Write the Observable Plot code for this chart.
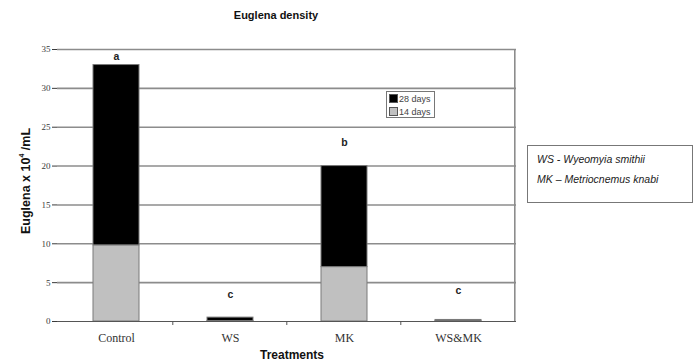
<!DOCTYPE html>
<html><head><meta charset="utf-8">
<script src="https://cdn.jsdelivr.net/npm/d3@7"></script>
<script src="https://cdn.jsdelivr.net/npm/@observablehq/plot@0.6"></script>
<style>
body{margin:0;background:#fff;}
#wrap{position:relative;width:698px;height:364px;font-family:"Liberation Sans",Arial,sans-serif;}
.abs{position:absolute;white-space:nowrap;}
</style></head><body>
<div id="wrap"></div>
<script>
const treatments = ["Control", "WS", "MK", "WS&MK"];
const days14 = [9.8, 0.05, 7.0, 0.05];
const days28 = [23.2, 0.45, 13.0, 0.15];
const letters = ["a", "c", "b", "c"];
const letterY = [34.1, 3.4, 23.0, 4.0];
const yTicks = [0, 5, 10, 15, 20, 25, 30, 35];
const seriesNames = ["14 days", "28 days"];
const seriesColors = ["#c0c0c0", "#000000"];

const rows = [];
treatments.forEach((t, i) => {
  rows.push({treatment: t, series: "14 days", value: days14[i]});
  rows.push({treatment: t, series: "28 days", value: days28[i]});
});
const labelRows = treatments.map((t, i) => ({treatment: t, letter: letters[i], y: letterY[i]}));

const plot = Plot.plot({
  width: 698, height: 364,
  marginTop: 49, marginBottom: 43, marginLeft: 57, marginRight: 182,
  style: {fontFamily: "'Liberation Serif', 'Times New Roman', serif", background: "#fff"},
  x: {domain: treatments, paddingInner: 0.6, paddingOuter: 0.3, label: null},
  y: {domain: [0, 35], label: null},
  color: {domain: seriesNames, range: seriesColors},
  marks: [
    Plot.ruleY(yTicks.filter(d => d > 0), {stroke: "#8c8c8c", strokeWidth: 1.6}),
    Plot.barY(rows, Plot.stackY({x: "treatment", y: "value", fill: "series", order: seriesNames, stroke: "#7a7a7a", strokeWidth: 1})),
    Plot.text(labelRows, {x: "treatment", y: "y", text: "letter", fontFamily: "'Liberation Sans', Arial, sans-serif", fontWeight: "bold", fontSize: 10.5, fill: "#222"}),
    Plot.axisY({ticks: yTicks, tickSize: 5, tickPadding: 2, fontSize: 9, fontFamily: "'Liberation Serif', serif", color: "#3a3a3a", label: null}),
    Plot.axisX({tickSize: 0, tickPadding: 12, fontSize: 12, fontFamily: "'Liberation Serif', serif", color: "#333", label: null}),
    Plot.ruleY([0], {stroke: "#555", strokeWidth: 1}),
    Plot.ruleX([0], {frameAnchor: "left", stroke: "#555", strokeWidth: 1.2, y1: 0, y2: 35}),
  ]
});

const wrap = document.getElementById("wrap");
wrap.appendChild(plot);

// boundary ticks and right border drawn through the library's scales
const xs = plot.scale("x"), ys = plot.scale("y");
const svg = d3.select(plot);
const step = xs.step, y0 = ys.apply(0), yTop = ys.apply(35);
const firstStart = xs.apply(treatments[0]) - xs.paddingOuter * step;
for (let k = 1; k < treatments.length; k++) {
  const bx = firstStart + k * step;
  svg.append("line").attr("x1", bx).attr("x2", bx).attr("y1", y0).attr("y2", y0 + 4)
    .attr("stroke", "#555").attr("stroke-width", 1);
}
const rx = firstStart + treatments.length * step;
svg.append("line").attr("x1", rx).attr("x2", rx).attr("y1", yTop).attr("y2", y0)
  .attr("stroke", "#8c8c8c").attr("stroke-width", 1.6);

function addDiv(html, css) {
  const d = document.createElement("div");
  d.className = "abs"; d.innerHTML = html; d.style.cssText += css;
  wrap.appendChild(d); return d;
}
// title
addDiv("Euglena density", "left:0;width:552px;text-align:center;top:9px;font-weight:bold;font-size:11px;color:#111;");
// axis titles
addDiv("Treatments", "left:57px;width:470px;text-align:center;top:348px;font-weight:bold;font-size:12px;color:#111;");
addDiv("Euglena x 10<sup style='font-size:7px;vertical-align:6px'>4</sup> /mL",
  "left:25px;top:181px;transform:translate(-50%,-50%) rotate(-90deg);font-weight:bold;font-size:12.5px;color:#111;");
// series legend
const leg = addDiv("", "left:386px;top:91px;width:49px;height:27px;border:1px solid #777;background:#fff;font-size:9px;color:#444;line-height:13px;padding:1px 0 0 2px;box-sizing:border-box;");
[1, 0].forEach(i => {
  leg.innerHTML += `<div><span style="display:inline-block;width:7px;height:7px;background:${seriesColors[i]};border:1px solid #555;margin-right:1px;vertical-align:-1px"></span>${seriesNames[i]}</div>`;
});
// species key
addDiv("<div style='margin-bottom:8px'>WS - Wyeomyia smithii</div><div>MK – Metriocnemus knabi</div>",
  "left:527px;top:145px;width:166px;height:58px;border:1px solid #777;box-sizing:border-box;padding:7px 0 0 9px;font-style:italic;font-size:10.5px;color:#222;");
</script>
</body></html>
